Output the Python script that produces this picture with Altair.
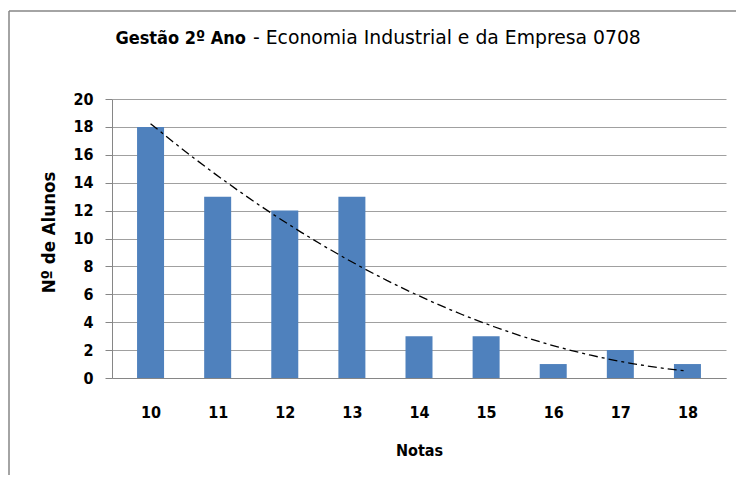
import altair as alt
import pandas as pd

notas = [10, 11, 12, 13, 14, 15, 16, 17, 18]
alunos = [18, 13, 12, 13, 3, 3, 1, 2, 1]
y_ticks = [0, 2, 4, 6, 8, 10, 12, 14, 16, 18, 20]
title_bold = "Gestão 2º Ano"
title_rest = "- Economia Industrial e da Empresa 0708"

df = pd.DataFrame({"Notas": notas, "Alunos": alunos})

W, H = 614, 279
FONT = "DejaVu Sans Condensed"
GRAY = "#868686"

x_enc = alt.X(
    "Notas:Q",
    scale=alt.Scale(domain=[9.5, 18.5], nice=False, zero=False),
    axis=alt.Axis(values=notas, tickCount=len(notas), title="Notas", ticks=False, tickSize=0,
                  grid=False, labelPadding=26, titlePadding=22, domainColor=GRAY, format="d",
                  labelOverlap=False),
)
y_enc = alt.Y(
    "Alunos:Q",
    scale=alt.Scale(domain=[0, 20], nice=False),
    axis=alt.Axis(values=y_ticks, tickCount=len(y_ticks), title="Nº de Alunos", tickSize=7,
                  tickColor=GRAY, gridColor="#a0a0a0", domainColor=GRAY, labelPadding=12,
                  titlePadding=14, labelOverlap=False, titleFontSize=18.5, titleY=133),
)

base = alt.Chart(df)
bars = base.mark_bar(size=27, color="#4F81BD").encode(x=x_enc, y=y_enc)
trend = (
    base.transform_regression("Notas", "Alunos", method="poly", order=2)
    .mark_line(color="black", strokeDash=[9, 4, 3, 4], strokeWidth=1.3)
    .encode(x="Notas:Q", y="Alunos:Q")
)

one = pd.DataFrame({"k": [0]})
top_line = alt.Chart(one).mark_rule(color=GRAY, strokeWidth=1.5).encode(
    x=alt.value(-103), x2=alt.value(700), y=alt.value(-88)
)
left_line = alt.Chart(one).mark_rule(color=GRAY, strokeWidth=1.5).encode(
    x=alt.value(-103), y=alt.value(-88), y2=alt.value(400)
)
t1 = alt.Chart(one).mark_text(
    text=title_bold, font=FONT, fontSize=18, fontWeight="bold", color="black",
    align="right", baseline="alphabetic",
).encode(x=alt.value(134), y=alt.value(-55))
t2 = alt.Chart(one).mark_text(
    text=title_rest, font="DejaVu Sans", fontSize=18.8, fontWeight="normal", color="black",
    align="left", baseline="alphabetic",
).encode(x=alt.value(141), y=alt.value(-55))

chart = (
    alt.layer(bars, trend, top_line, left_line, t1, t2)
    .properties(
        width=W,
        height=H,
        autosize=alt.AutoSizeParams(type="none"),
        padding={"left": 104, "top": 91, "right": 10, "bottom": 97},
    )
    .configure_view(stroke=None)
    .configure_axis(
        labelFont=FONT, labelFontSize=16, labelFontWeight="bold", labelColor="black",
        titleFont=FONT, titleFontSize=16, titleFontWeight="bold", titleColor="black",
    )
)

chart.save("out.html", embed_options={"renderer": "svg", "actions": False})
